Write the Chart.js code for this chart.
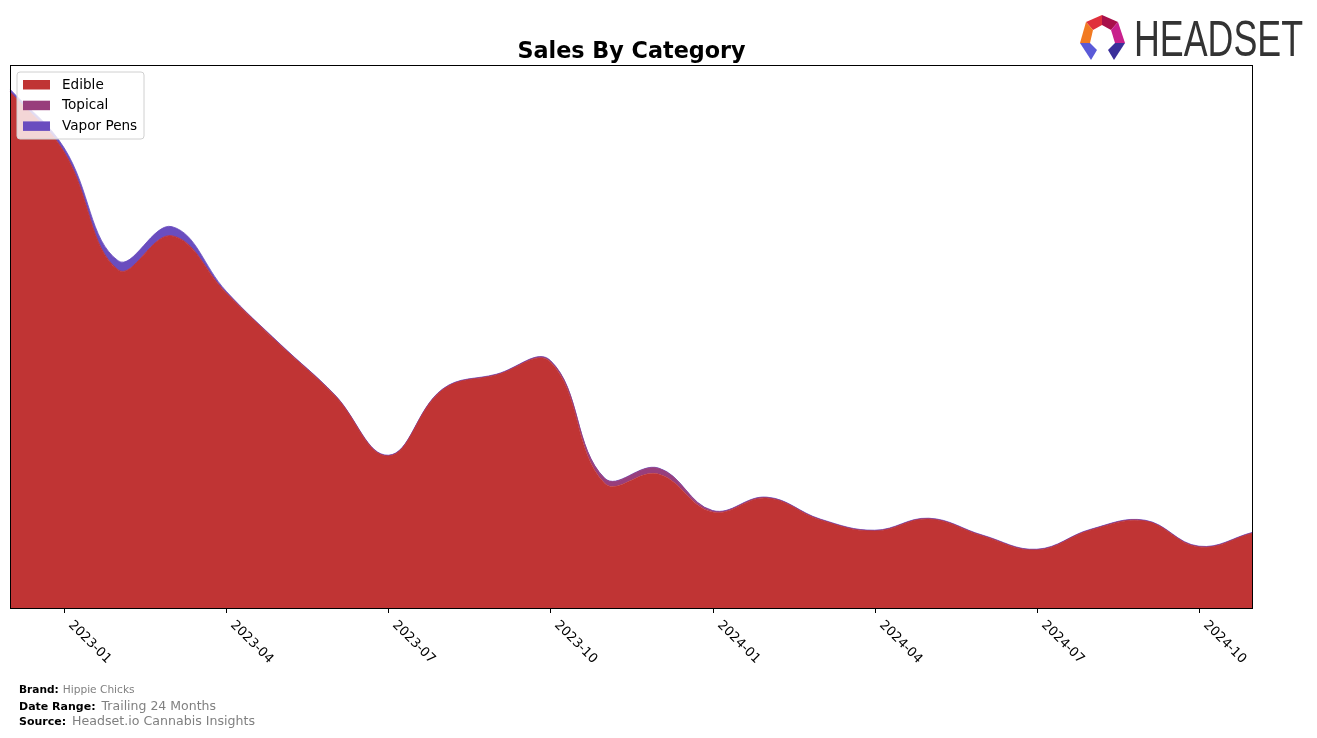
<!DOCTYPE html>
<html>
<head>
<meta charset="utf-8">
<script src="https://cdn.jsdelivr.net/npm/chart.js@4.4.1/dist/chart.umd.min.js"></script>
<style>
html,body{margin:0;padding:0;background:#fff;}
#wrap{position:relative;width:1317px;height:738px;}
canvas{display:block;}
</style>
</head>
<body>
<div id="wrap"><canvas id="c" width="1317" height="738"></canvas></div>
<script>
const months = ["2022-12","2023-01","2023-02","2023-03","2023-04","2023-05","2023-06","2023-07","2023-08","2023-09","2023-10","2023-11",
                "2023-12","2024-01","2024-02","2024-03","2024-04","2024-05","2024-06","2024-07","2024-08","2024-09","2024-10","2024-11"];
const tickLabels = ["2023-01","2023-04","2023-07","2023-10","2024-01","2024-04","2024-07","2024-10"];
const edible =  [516,456,338,372,315,263,213,152,218,233,246,125,134,96,110,88,77,89,72,58,78,87,61,75];
const topical = [0.3,0.3,0.3,0.3,0.3,0.3,0.3,0.3,0.3,0.3,1.0,4.5,5.5,1.0,0.4,0.3,0.3,0.3,0.3,0.3,0.3,0.3,0.3,0.3];
const vapor =   [2.5,4,9,9,1.5,0.6,0.5,0.5,0.5,0.5,0.5,0.5,0.5,0.5,0.5,0.5,0.5,0.5,0.5,0.5,0.5,0.5,0.5,0.5];
const seriesNames = ["Edible","Topical","Vapor Pens"];
const seriesColors = ["#c03434","#983e7c","#6a4dbf"];

const PL = 10, PT = 65, PR = 1253, PB = 608;

const decor = {
  id: 'decor',
  afterDraw(chart) {
    const ctx = chart.ctx;
    const xs = chart.scales.x;
    ctx.save();
    // frame
    ctx.strokeStyle = '#000'; ctx.lineWidth = 1;
    ctx.strokeRect(PL + 0.5, PT + 0.5, PR - PL - 1, PB - PT);
    // ticks + labels
    ctx.font = '13px "DejaVu Sans"';
    ctx.fillStyle = '#000';
    tickLabels.forEach(lbl => {
      const i = months.indexOf(lbl);
      const x = Math.round(xs.getPixelForValue(i)) + 0.5;
      ctx.beginPath(); ctx.moveTo(x, PB); ctx.lineTo(x, PB + 5); ctx.stroke();
      ctx.save();
      ctx.translate(x + 6, PB + 15);
      ctx.rotate(Math.PI / 4);
      ctx.textAlign = 'left'; ctx.textBaseline = 'middle';
      ctx.fillText(lbl, 0, 0);
      ctx.restore();
    });
    // title
    ctx.font = 'bold 22.3px "DejaVu Sans"';
    ctx.textAlign = 'center'; ctx.textBaseline = 'alphabetic';
    ctx.fillText('Sales By Category', (PL + PR) / 2, 57.5);
    // legend
    const lx = 17, ly = 72, lw = 127, lh = 67, r = 3;
    ctx.beginPath();
    ctx.moveTo(lx + r, ly); ctx.lineTo(lx + lw - r, ly); ctx.quadraticCurveTo(lx + lw, ly, lx + lw, ly + r);
    ctx.lineTo(lx + lw, ly + lh - r); ctx.quadraticCurveTo(lx + lw, ly + lh, lx + lw - r, ly + lh);
    ctx.lineTo(lx + r, ly + lh); ctx.quadraticCurveTo(lx, ly + lh, lx, ly + lh - r);
    ctx.lineTo(lx, ly + r); ctx.quadraticCurveTo(lx, ly, lx + r, ly); ctx.closePath();
    ctx.fillStyle = 'rgba(255,255,255,0.8)'; ctx.fill();
    ctx.strokeStyle = '#d0d0d0'; ctx.stroke();
    ctx.font = '13.6px "DejaVu Sans"';
    ctx.textAlign = 'left'; ctx.textBaseline = 'middle';
    seriesNames.forEach((n, k) => {
      const cy = 84.5 + k * 20.7;
      ctx.fillStyle = seriesColors[k];
      ctx.fillRect(23, cy - 4.5, 27, 9.5);
      ctx.fillStyle = '#000';
      ctx.fillText(n, 62, cy + 0.5);
    });
    // footer
    const foot = [
      ['Brand:', 'Hippie Chicks', 693, 10.6, 10.6, 4],
      ['Date Range:', 'Trailing 24 Months', 710, 11, 12.5, 6],
      ['Source:', 'Headset.io Cannabis Insights', 725, 11, 12.6, 6]
    ];
    ctx.textBaseline = 'alphabetic';
    foot.forEach(f => {
      ctx.font = 'bold ' + f[3] + 'px "DejaVu Sans"';
      ctx.fillStyle = '#000';
      ctx.fillText(f[0], 19, f[2]);
      const w = ctx.measureText(f[0]).width;
      ctx.font = f[4] + 'px "DejaVu Sans"';
      ctx.fillStyle = '#808080';
      ctx.fillText(f[1], 19 + w + f[5], f[2]);
    });
    // logo icon
    const polys = [
      ['#e0303c', [[1086,22],[1102,15],[1102,25],[1093,30]]],
      ['#a8104a', [[1102,15],[1118,22],[1111,30],[1102,25]]],
      ['#f27a22', [[1086,22],[1093,30],[1090,43],[1080,43]]],
      ['#c8208c', [[1118,22],[1125,43],[1115,43],[1111,30]]],
      ['#5a5ad8', [[1080,43],[1090,43],[1097,50],[1091,60]]],
      ['#3a2f9a', [[1125,43],[1115,43],[1108,50],[1114,60]]]
    ];
    polys.forEach(p => {
      ctx.fillStyle = p[0];
      ctx.beginPath();
      p[1].forEach((pt, j) => j ? ctx.lineTo(pt[0], pt[1]) : ctx.moveTo(pt[0], pt[1]));
      ctx.closePath(); ctx.fill();
    });
    // logo text
    ctx.font = '50px "Liberation Sans Narrow", "Liberation Sans", "DejaVu Sans"';
    const tw = ctx.measureText('HEADSET').width;
    ctx.save();
    ctx.translate(1134, 56);
    ctx.scale(169 / tw, 1);
    ctx.fillStyle = '#333333';
    ctx.textAlign = 'left'; ctx.textBaseline = 'alphabetic';
    ctx.fillText('HEADSET', 0, 0);
    ctx.restore();
    ctx.restore();
  }
};

new Chart(document.getElementById('c'), {
  type: 'line',
  data: {
    labels: months,
    datasets: [
      { label: seriesNames[0], data: edible, backgroundColor: seriesColors[0], borderColor: seriesColors[0], borderWidth: 0.5, fill: 'origin' },
      { label: seriesNames[1], data: topical, backgroundColor: seriesColors[1], borderColor: seriesColors[1], borderWidth: 1, fill: '-1' },
      { label: seriesNames[2], data: vapor, backgroundColor: seriesColors[2], borderColor: 'rgba(106,77,191,0.8)', borderWidth: 1, fill: '-1' }
    ]
  },
  options: {
    responsive: false,
    animation: false,
    layout: { padding: { left: PL, top: PT, right: 1317 - PR, bottom: 738 - PB } },
    elements: { point: { radius: 0 }, line: { tension: 0.4 } },
    scales: {
      x: { display: false, offset: false },
      y: { display: false, stacked: true, min: 0, max: 543 }
    },
    plugins: { legend: { display: false }, tooltip: { enabled: false }, title: { display: false } }
  },
  plugins: [decor]
});
</script>
</body>
</html>
